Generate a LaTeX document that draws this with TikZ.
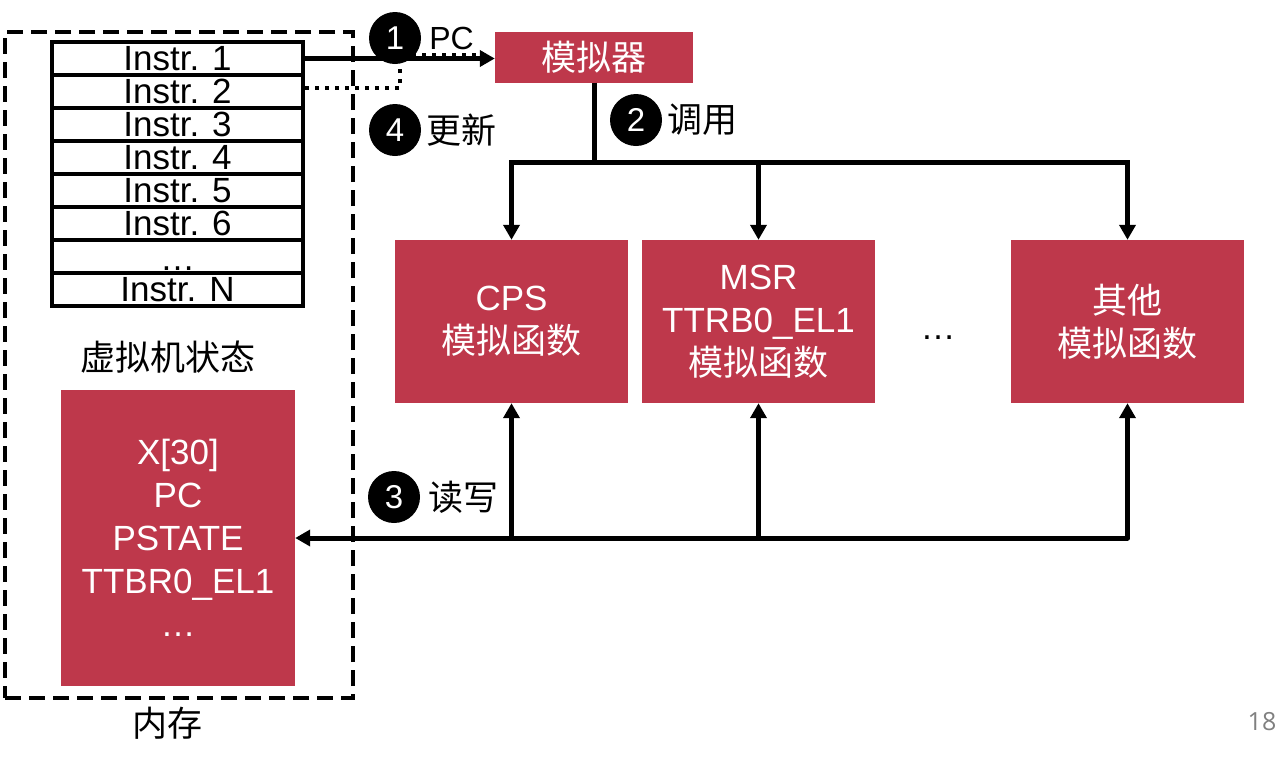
\documentclass[tikz,border=0pt]{standalone}
\usepackage{fontspec}
\setmainfont{Liberation Sans}
\newfontfamily\cjk{Noto Sans CJK SC}
\newfontfamily\pagefont{Open Sans}
\usetikzlibrary{positioning,arrows.meta}
\definecolor{simred}{RGB}{190,56,75}

\begin{document}
\begin{tikzpicture}[x=1pt, y=-1pt, >={Triangle[width=16pt,length=15pt]}]
\tikzstyle{instrrow}=[rectangle, draw, line width=4pt, minimum width=251pt, minimum height=33pt, inner sep=0pt, font=\fontsize{35}{40}\selectfont]
\tikzstyle{redbox}=[rectangle, fill=simred, text=white, inner sep=0pt, align=center, font=\fontsize{35}{43}\selectfont]
\tikzstyle{numc}=[circle, fill=black, text=white, minimum size=52pt, inner sep=0pt, font=\fontsize{33}{33}\selectfont]
\tikzstyle{lbl}=[inner sep=0pt, font=\fontsize{35}{40}\selectfont]
\tikzstyle{wire}=[line width=5pt]

\useasboundingbox (0,0) rectangle (1288,766);

\node[rectangle, draw, dash pattern=on 16pt off 8pt, line width=3.5pt, minimum width=348pt, minimum height=666pt, inner sep=0pt] (mem) at (179,365) {};
\node[lbl] (memlbl) at (167,723) {\cjk 内存};

\node[instrrow] (ins1) at (177.5,58.5) {\raisebox{-2pt}{Instr. 1}};
\node[instrrow] (ins2) at (177.5,91.5) {\raisebox{-2pt}{Instr. 2}};
\node[instrrow] (ins3) at (177.5,124.5) {\raisebox{-2pt}{Instr. 3}};
\node[instrrow] (ins4) at (177.5,157.5) {\raisebox{-2pt}{Instr. 4}};
\node[instrrow] (ins5) at (177.5,190.5) {\raisebox{-2pt}{Instr. 5}};
\node[instrrow] (ins6) at (177.5,223.5) {\raisebox{-2pt}{Instr. 6}};
\node[instrrow] (ins7) at (177.5,256.5) {};
\node[instrrow] (ins8) at (177.5,289.5) {\raisebox{-2pt}{Instr. N}};
\node[lbl, font=\fontsize{35}{40}\selectfont] (insdots) at (177.5,269) {…};

\node[lbl] (vmlbl) at (168,357) {\cjk 虚拟机状态};
\node[redbox, minimum width=234pt, minimum height=296pt] (state) at (178,538) {X[30]\\PC\\PSTATE\\TTBR0\_EL1\\…};

\node[redbox, minimum width=198pt, minimum height=51pt] (sim) at (594,57) {\cjk 模拟器};
\node[redbox, minimum width=233pt, minimum height=163pt] (cps) at (511.5,321.5) {CPS\\{\cjk 模拟函数}};
\node[redbox, minimum width=233pt, minimum height=163pt] (msr) at (758.5,321.5) {MSR\\TTRB0\_EL1\\{\cjk 模拟函数}};
\node[redbox, minimum width=233pt, minimum height=163pt] (oth) at (1127.5,321.5) {{\cjk 其他}\\{\cjk 模拟函数}};
\node[lbl] (more) at (938,338) {…};

\node[numc] (n1) at (395,38) {1};
\node[lbl, right=8pt of n1, font=\fontsize{32}{36}\selectfont] (pc) {PC};
\node[numc] (n2) at (636,120) {2};
\node[lbl, right=5pt of n2] (call) {\cjk 调用};
\node[numc] (n3) at (394,497) {3};
\node[lbl, right=8pt of n3] (rw) {\cjk 读写};
\node[numc] (n4) at (395,130) {4};
\node[lbl, right=5pt of n4] (upd) {\cjk 更新};

\node[text=gray, inner sep=0pt, font=\pagefont\fontsize{25}{25}\selectfont] (pg) at (1262,722) {18};

\draw[wire, ->] (ins1.east) -- (sim.west |- ins1.east);
\coordinate (bend) at (400,55);
\coordinate (pcend) at (482,55);
\draw[line width=4pt, dash pattern=on 4pt off 6pt] ([yshift=3.5pt]ins2.east) -| (bend) -- (pcend);

\coordinate (split) at (594,162);
\draw[wire] (sim.south) -- (split);
\draw[wire, <->] (cps.north) |- (split) -| (oth.north);
\draw[wire, ->] (msr.north |- split) -- (msr.north);
\draw[wire, <->, line join=round] (state.east) -| (oth.south);
\draw[wire, ->] (cps.south |- state.east) -- (cps.south);
\draw[wire, ->] (msr.south |- state.east) -- (msr.south);
\end{tikzpicture}
\end{document}
